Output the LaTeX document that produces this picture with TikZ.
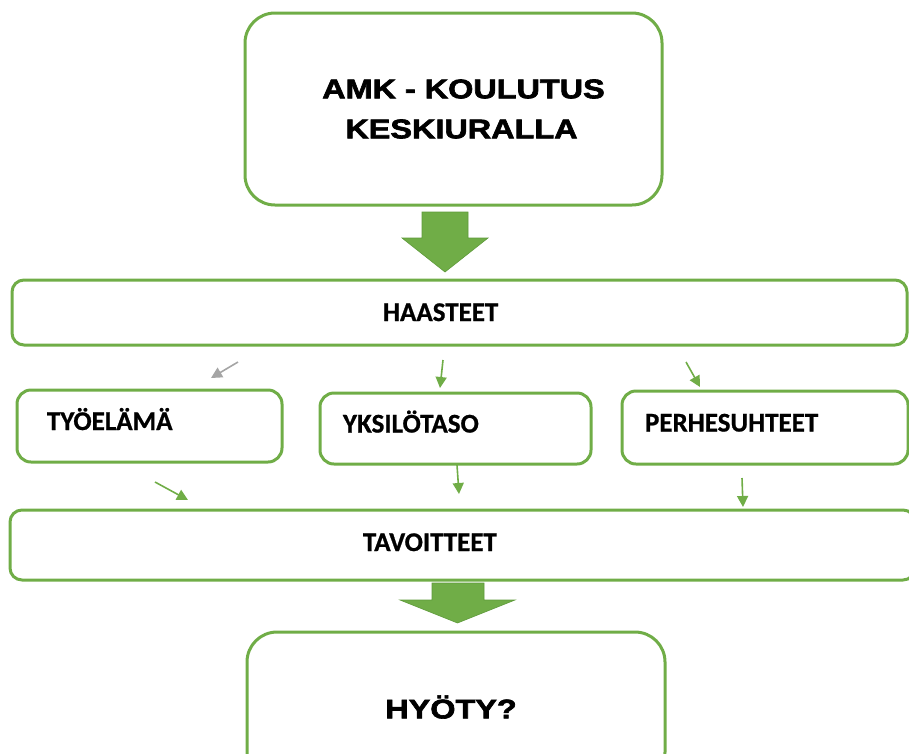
\documentclass[tikz,border=0pt]{standalone}
\usepackage{fontspec}
\usetikzlibrary{arrows.meta}
\newfontfamily\headfont{Liberation Sans}[FakeStretch=1.2, BoldFeatures={FakeBold=2.4}]
\newfontfamily\labelfont{Carlito}[BoldFeatures={FakeBold=0.8}]
\definecolor{boxgreen}{HTML}{70AD47}
\definecolor{arrowedge}{HTML}{5E9A3A}
\definecolor{arrowgrey}{HTML}{A5A5A5}

\begin{document}
\begin{tikzpicture}[x=1pt, y=-1pt,
    bigbox/.style={rectangle, draw=boxgreen, line width=3pt, rounded corners=30pt, align=center, font=\headfont\bfseries\fontsize{27}{40}\selectfont},
    bar/.style={rectangle, draw=boxgreen, line width=3pt, rounded corners=12pt, align=left, inner ysep=0pt, text height=20pt, text depth=3pt, font=\labelfont\bfseries\fontsize{27}{32}\selectfont},
    topic/.style={bar, rounded corners=14pt, text depth=12pt},
    blockarrow/.style={fill=boxgreen, draw=arrowedge, line width=0.6pt},
    arrow/.style={-{Triangle[length=11pt, width=11pt]}, line width=1.6pt, boxgreen},
    greyarrow/.style={arrow, arrowgrey}
]
\useasboundingbox (0,0) rectangle (909,753);
\clip (0,0) rectangle (909,753);

% Boxes
\node[bigbox, minimum width=417pt, minimum height=192pt] (amk) at (453.5,109) {\hspace*{20pt}AMK - KOULUTUS\\\hspace*{16pt}KESKIURALLA};
\node[bar, text width=153pt, inner xsep=371pt, minimum height=65pt] (haasteet) at (459.5,312.5) {HAASTEET};
\node[topic, text width=205pt, inner xsep=30pt, minimum height=72pt] (tyoelama) at (149.5,426) {TYÖELÄMÄ};
\node[topic, text width=225pt, inner xsep=23pt, minimum height=71pt] (yksilo) at (455.5,428.5) {YKSILÖTASO};
\node[topic, text width=240pt, inner xsep=23pt, minimum height=73pt] (perhe) at (765,427.5) {PERHESUHTEET};
\node[bar, text depth=8pt, text width=199pt, inner xsep=353pt, minimum height=70pt] (tavoitteet) at (462.5,545) {TAVOITTEET};
\node[bigbox, minimum width=418pt, minimum height=150pt] (hyoty) at (456,707) {HYÖTY?\hspace*{10pt}};

% Block arrows
\filldraw[blockarrow] (422,212) -- (468,212) -- (468,238) -- (488,238) -- (445,272) -- (402,238) -- (422,238) -- cycle;
\filldraw[blockarrow] (432,583) -- (484,583) -- (484,600) -- (515,600) -- (457.5,623) -- (400,600) -- (432,600) -- cycle;

% Small arrows
\coordinate (h1) at (238,362);  \coordinate (t1) at (211,378);
\coordinate (h2) at (443,360);  \coordinate (y1) at (440,388);
\coordinate (h3) at (686,362);  \coordinate (p1) at (700,387);
\coordinate (t2) at (155,482);  \coordinate (v1) at (188,500);
\coordinate (y2) at (457,465);  \coordinate (v2) at (459,494);
\coordinate (p2) at (742,478);  \coordinate (v3) at (743,507);

\draw[greyarrow] (h1) -- (t1);
\draw[arrow] (h2) -- (y1);
\draw[arrow] (h3) -- (p1);
\draw[arrow] (t2) -- (v1);
\draw[arrow] (y2) -- (v2);
\draw[arrow] (p2) -- (v3);

\end{tikzpicture}
\end{document}
